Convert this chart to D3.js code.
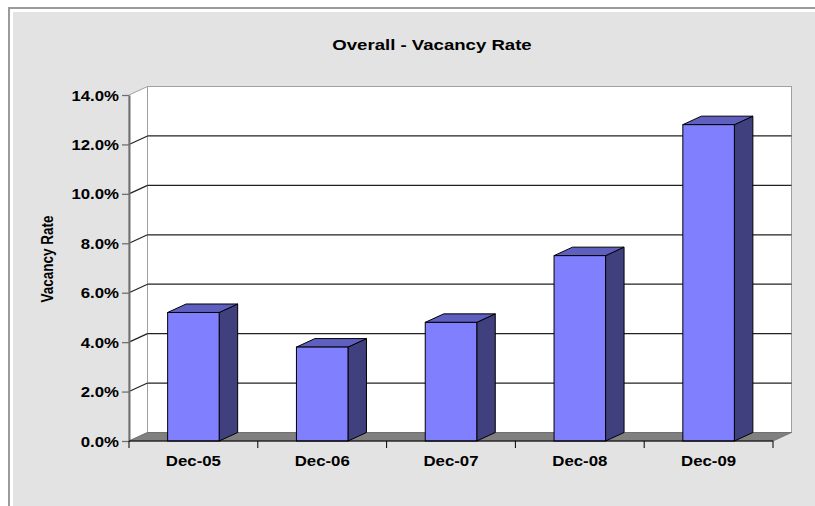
<!DOCTYPE html>
<html>
<head>
<meta charset="utf-8">
<script src="https://cdnjs.cloudflare.com/ajax/libs/d3/7.8.5/d3.min.js"></script>
<style>
  html, body { margin: 0; padding: 0; background: #ffffff; }
  svg { display: block; }
  text { font-family: "Liberation Sans", Arial, sans-serif; font-weight: bold; fill: #000; }
</style>
</head>
<body>
<svg id="chart" width="815" height="506"></svg>
<script>
// Chart data
const categories = ["Dec-05", "Dec-06", "Dec-07", "Dec-08", "Dec-09"];
const vacancyRate = [0.052, 0.038, 0.048, 0.075, 0.128];
const yTicks = [0, 0.02, 0.04, 0.06, 0.08, 0.10, 0.12, 0.14];
const chartTitle = "Overall - Vacancy Rate";
const yAxisTitle = "Vacancy Rate";

const svg = d3.select("#chart");
const W = 815, H = 506;

// Frame and chart-area background
svg.append("rect").attr("x", 0).attr("y", 0).attr("width", W).attr("height", H).attr("fill", "#ffffff");
svg.append("path")
  .attr("d", `M9,${H} L9,8 L${W},8`)
  .attr("fill", "none").attr("stroke", "#9a9a9a").attr("stroke-width", 2);
svg.append("rect").attr("x", 13).attr("y", 12).attr("width", W - 13).attr("height", H - 12).attr("fill", "#e3e3e3");

// Plot geometry: front plane plus a depth offset for the 3D walls
const front = { left: 129, right: 773, top: 95, bottom: 441 };
const depth = { dx: 18.5, dy: -8.5 };

const y = d3.scaleLinear().domain([0, 0.14]).range([front.bottom, front.top]);
const x = d3.scaleBand().domain(categories).range([front.left, front.right])
  .paddingInner(0.6).paddingOuter(0.3);

const g = svg.append("g");

// Back wall
const bx0 = front.left + depth.dx, bx1 = front.right + depth.dx;
g.append("rect")
  .attr("x", bx0).attr("y", y(0.14) + depth.dy)
  .attr("width", bx1 - bx0).attr("height", y(0) - y(0.14))
  .attr("fill", "#ffffff").attr("stroke", "#a0a0a0").attr("stroke-width", 1);

// Left side wall
g.append("path")
  .attr("d", `M${front.left},${y(0.14)} L${bx0},${y(0.14) + depth.dy} L${bx0},${y(0) + depth.dy} L${front.left},${y(0)} Z`)
  .attr("fill", "#ffffff").attr("stroke", "#a0a0a0").attr("stroke-width", 1);

// Gridlines on back wall and left wall
const grid = yTicks.filter(t => t > 0 && t < 0.14);
g.selectAll("line.gridback").data(grid).enter().append("line")
  .attr("class", "gridback")
  .attr("x1", bx0).attr("x2", bx1)
  .attr("y1", d => y(d) + depth.dy).attr("y2", d => y(d) + depth.dy)
  .attr("stroke", "#222").attr("stroke-width", 1.3);
g.selectAll("line.gridside").data(grid).enter().append("line")
  .attr("class", "gridside")
  .attr("x1", front.left).attr("x2", bx0)
  .attr("y1", d => y(d)).attr("y2", d => y(d) + depth.dy)
  .attr("stroke", "#222").attr("stroke-width", 1.2);

// Floor
g.append("path")
  .attr("d", `M${front.left},${y(0)} L${bx0},${y(0) + depth.dy} L${bx1},${y(0) + depth.dy} L${front.right},${y(0)} Z`)
  .attr("fill", "#808080").attr("stroke", "#6a6a6a").attr("stroke-width", 0.8);

// Bars: front, top and side faces
const bw = x.bandwidth();
const bars = g.selectAll("g.bar").data(categories.map((c, i) => ({ c, v: vacancyRate[i] })))
  .enter().append("g").attr("class", "bar");

bars.append("path")
  .attr("d", d => {
    const x0 = x(d.c), yt = y(d.v);
    return `M${x0 + bw},${yt} L${x0 + bw + depth.dx},${yt + depth.dy} L${x0 + bw + depth.dx},${y(0) + depth.dy} L${x0 + bw},${y(0)} Z`;
  })
  .attr("fill", "#40407f").attr("stroke", "#000").attr("stroke-width", 1).attr("stroke-linejoin", "round");

bars.append("path")
  .attr("d", d => {
    const x0 = x(d.c), yt = y(d.v);
    return `M${x0},${yt} L${x0 + depth.dx},${yt + depth.dy} L${x0 + bw + depth.dx},${yt + depth.dy} L${x0 + bw},${yt} Z`;
  })
  .attr("fill", "#5f5fbf").attr("stroke", "#000").attr("stroke-width", 1).attr("stroke-linejoin", "round");

bars.append("rect")
  .attr("x", d => x(d.c)).attr("y", d => y(d.v))
  .attr("width", bw).attr("height", d => y(0) - y(d.v))
  .attr("fill", "#8080ff").attr("stroke", "#000").attr("stroke-width", 1);

// Y axis
const yAxis = svg.append("g")
  .attr("transform", `translate(${front.left},0)`)
  .call(d3.axisLeft(y).tickValues(yTicks).tickFormat(d3.format(".1%")).tickSize(7).tickSizeOuter(0));
yAxis.select(".domain").attr("stroke", "#707070").attr("stroke-width", 2);
yAxis.selectAll(".tick line").attr("stroke", "#707070").attr("stroke-width", 1.3);
yAxis.selectAll(".tick text")
  .attr("x", 0).attr("dy", "0.36em")
  .attr("text-anchor", "end")
  .attr("transform", "translate(-10,0) scale(1.2,1)")
  .style("font-size", "14px")
  .style("font-family", "'Liberation Sans', Arial, sans-serif")
  .style("font-weight", "bold");

// X axis: labels at band centres, tick marks at category boundaries
const xAxis = svg.append("g")
  .attr("transform", `translate(0,${front.bottom})`)
  .call(d3.axisBottom(x).tickSize(0).tickPadding(0));
xAxis.select(".domain").remove();
xAxis.selectAll(".tick text")
  .attr("y", 0).attr("dy", 0)
  .attr("transform", "translate(0,25) scale(1.2,1)")
  .style("font-size", "14px")
  .style("font-family", "'Liberation Sans', Arial, sans-serif")
  .style("font-weight", "bold");

const bounds = d3.range(categories.length + 1).map(i => front.left + i * x.step());
svg.append("line")
  .attr("x1", front.left).attr("x2", front.right)
  .attr("y1", front.bottom).attr("y2", front.bottom)
  .attr("stroke", "#000").attr("stroke-width", 1.2);
svg.selectAll("line.xtick").data(bounds).enter().append("line")
  .attr("class", "xtick")
  .attr("x1", d => d).attr("x2", d => d)
  .attr("y1", front.bottom).attr("y2", front.bottom + 7)
  .attr("stroke", "#000").attr("stroke-width", 1);

// Titles
svg.append("text")
  .attr("transform", "translate(432,50) scale(1.2,1)")
  .attr("text-anchor", "middle")
  .style("font-size", "15.5px")
  .text(chartTitle);

svg.append("text")
  .attr("transform", "translate(53,259) scale(1.2,1) rotate(-90)")
  .attr("text-anchor", "middle")
  .style("font-size", "13.5px")
  .text(yAxisTitle);
</script>
</body>
</html>
